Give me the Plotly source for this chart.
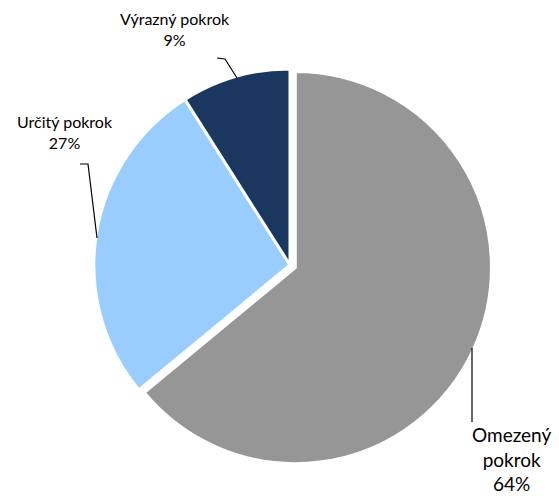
import plotly.graph_objects as go

labels = ["Omezený pokrok", "Určitý pokrok", "Výrazný pokrok"]
values = [64, 27, 9]
colors = ["#969696", "#99CCFF", "#1A3760"]
pulls = [0.03, 0, 0]

fig = go.Figure(go.Pie(
    labels=labels, values=values, sort=False, direction="clockwise", rotation=0,
    marker=dict(colors=colors, line=dict(color="white", width=3)),
    pull=pulls, textinfo="none", hoverinfo="label+percent", showlegend=False,
))

W, H = 559, 496
ml, mr, mt, mb = 88, 67, 63, 29
pw, ph = W - ml - mr, H - mt - mb

def px(x):
    return (x - ml) / pw

def py(y):
    return 1 - (y - mt) / ph

fnt = "Lato, 'Noto Sans', sans-serif"
ann_text = [
    ("Omezený<br>pokrok<br>%d%%" % values[0], 511, 459, 19),
    ("Určitý pokrok<br>%d%%" % values[1], 65, 132, 16),
    ("Výrazný pokrok<br>%d%%" % values[2], 175, 29, 16),
]
for t, x, y, s in ann_text:
    fig.add_annotation(text=t, x=px(x), y=py(y), xref="paper", yref="paper", showarrow=False,
                       font=dict(family=fnt, size=s, color="#000000"), align="center",
                       xanchor="center", yanchor="middle")

leaders = [
    [(472, 348), (472, 422)],
    [(80, 164), (88, 164), (97, 238)],
    [(217, 58), (225, 59), (237, 78)],
]
for pts in leaders:
    path = "M " + " L ".join("%f,%f" % (px(x), py(y)) for x, y in pts)
    fig.add_shape(type="path", path=path, xref="paper", yref="paper",
                  line=dict(color="black", width=1.2))

fig.update_layout(
    width=W, height=H,
    margin=dict(l=ml, r=mr, t=mt, b=mb),
    paper_bgcolor="white", plot_bgcolor="white",
)
fig.write_html("out.html", config={"displayModeBar": False},
               post_script="document.body.style.margin='0';document.body.style.overflow='hidden';")
